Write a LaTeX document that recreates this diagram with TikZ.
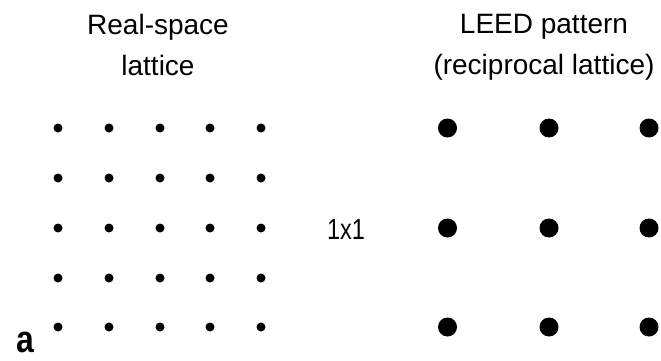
\documentclass[tikz,border=0pt]{standalone}
\usepackage{fontspec}
\setmainfont{Liberation Sans}
\usepackage{graphicx}
\usepackage{tikz}

\begin{document}
\begin{tikzpicture}[x=1pt,y=-1pt,
    headtext/.style={align=center,anchor=north,inner sep=0pt,font=\fontsize{28}{41}\selectfont}]
\useasboundingbox (0,0) rectangle (661,361);
%\tikzstyle{spot}=[circle,fill,inner sep=0pt,minimum size=9pt]
\node[headtext] (real) at (158,14.5) {Real-space\\lattice};
\node[headtext] (leed) at (544,14.5) {LEED pattern\\(reciprocal lattice)};

% real-space lattice
\begin{scope}[every node/.style={circle,fill=black,inner sep=0pt,minimum size=9pt}]
    \node (r11) at (58,128) {};
    \node (r12) at (109,128) {};
    \node (r13) at (160,128) {};
    \node (r14) at (210,128) {};
    \node (r15) at (261,128) {};
    \node (r21) at (58,178) {};
    \node (r22) at (109,178) {};
    \node (r23) at (160,178) {};
    \node (r24) at (210,178) {};
    \node (r25) at (261,178) {};
    \node (r31) at (58,228) {};
    \node (r32) at (109,228) {};
    \node (r33) at (160,228) {};
    \node (r34) at (210,228) {};
    \node (r35) at (261,228) {};
    \node (r41) at (58,278) {};
    \node (r42) at (109,278) {};
    \node (r43) at (160,278) {};
    \node (r44) at (210,278) {};
    \node (r45) at (261,278) {};
    \node (r51) at (58,327) {};
    \node (r52) at (109,327) {};
    \node (r53) at (160,327) {};
    \node (r54) at (210,327) {};
    \node (r55) at (261,327) {};
\end{scope}

% reciprocal lattice
\begin{scope}[every node/.style={circle,fill=black,inner sep=0pt,minimum size=19pt}]
    \node (k11) at (447.5,128) {};
    \node (k12) at (549,128) {};
    \node (k13) at (649,128) {};
    \node (k21) at (447.5,228) {};
    \node (k22) at (549,228) {};
    \node (k23) at (649,228) {};
    \node (k31) at (447.5,327) {};
    \node (k32) at (549,327) {};
    \node (k33) at (649,327) {};
\end{scope}

\node[anchor=base,inner sep=0pt,font=\fontsize{29}{32}\selectfont] (cell) at (346,239.3) {\scalebox{0.81}[1]{1x1}};
\node[anchor=base,inner sep=0pt,font=\bfseries\fontsize{38}{41}\selectfont] (panel) at (25.3,352.5) {\scalebox{0.84}[1]{a}};
\end{tikzpicture}
\end{document}
